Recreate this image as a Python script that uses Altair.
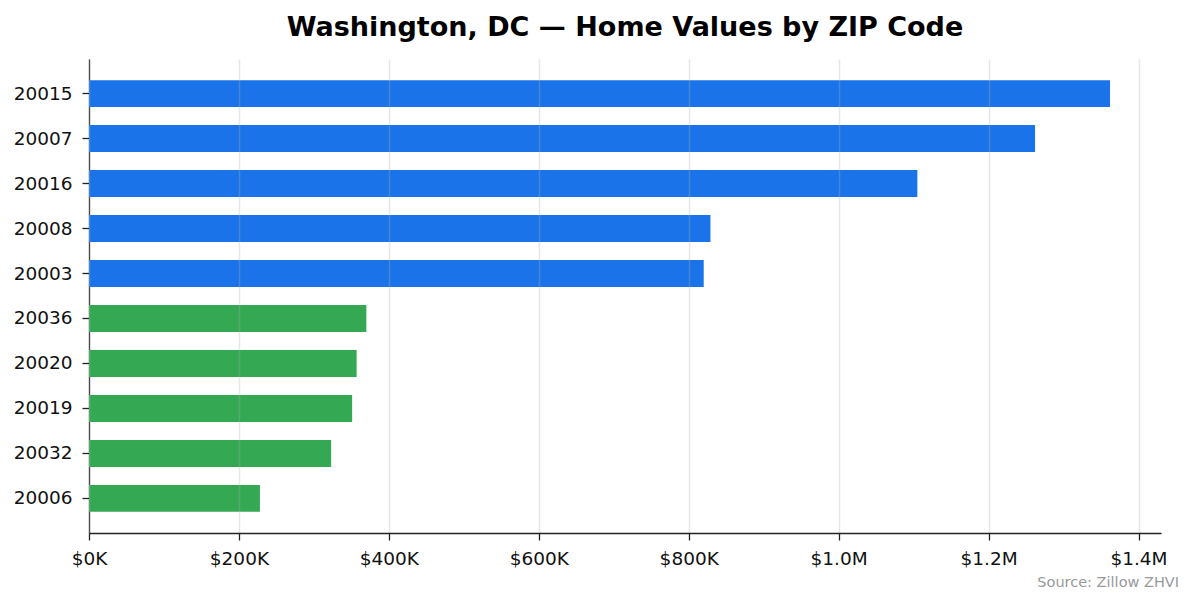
import altair as alt
import pandas as pd

zips = ["20015", "20007", "20016", "20008", "20003", "20036", "20020", "20019", "20032", "20006"]
values = [1362000, 1262000, 1105000, 829000, 820000, 370000, 357000, 351000, 323000, 228000]
tiers = ["high"] * 5 + ["low"] * 5
tick_values = [0, 200000, 400000, 600000, 800000, 1000000, 1200000, 1400000]

df = pd.DataFrame({"zip": zips, "value": values, "tier": tiers})
src = pd.DataFrame({"label": ["Source: Zillow ZHVI"]})

FONT = "DejaVu Sans"

bars = alt.Chart(df).mark_bar().encode(
    y=alt.Y("zip:N", sort=zips, title=None,
            scale=alt.Scale(paddingInner=0.4, paddingOuter=0.47),
            axis=alt.Axis(domainColor="#222222", domainWidth=1.3, tickColor="#222222",
                          tickSize=7, tickWidth=1.3, labelFontSize=18.5, labelColor="#111111",
                          labelFont=FONT, labelPadding=10, grid=False)),
    x=alt.X("value:Q", title=None,
            scale=alt.Scale(domain=[0, 1430000], nice=False, zero=True),
            axis=alt.Axis(values=tick_values, domainColor="#222222", domainWidth=1.3,
                          tickColor="#222222", tickSize=7, tickWidth=1.3,
                          labelFontSize=18.5, labelColor="#111111", labelFont=FONT,
                          labelPadding=9, labelFlush=False, labelOverlap=False,
                          grid=True, gridColor="#b0b0b0",
                          gridOpacity=0.3, gridWidth=1.5, zindex=1,
                          labelExpr="datum.value >= 1000000 ? '$' + format(datum.value/1000000, '.1f') + 'M' : '$' + format(datum.value/1000, '.0f') + 'K'")),
    color=alt.Color("tier:N", legend=None,
                    scale=alt.Scale(domain=["high", "low"], range=["#1a73e8", "#34a853"])),
)

source = alt.Chart(src).mark_text(
    align="right", baseline="alphabetic", fontSize=14.5, color="#999999", font=FONT
).encode(
    text="label:N",
    x=alt.value(1090),
    y=alt.value(528),
)

chart = alt.layer(bars, source).properties(
    width=1072,
    height=474,
    background="white",
    title=alt.TitleParams("Washington, DC — Home Values by ZIP Code", fontSize=27,
                          fontWeight="bold", font=FONT, color="#000000",
                          anchor="middle", offset=17),
    autosize=alt.AutoSizeParams(type="none"),
    padding={"left": 81, "top": 51, "right": 26, "bottom": 62},
).configure_view(stroke=None, strokeWidth=0)

chart.save("out.html", embed_options={"renderer": "svg", "actions": False})
